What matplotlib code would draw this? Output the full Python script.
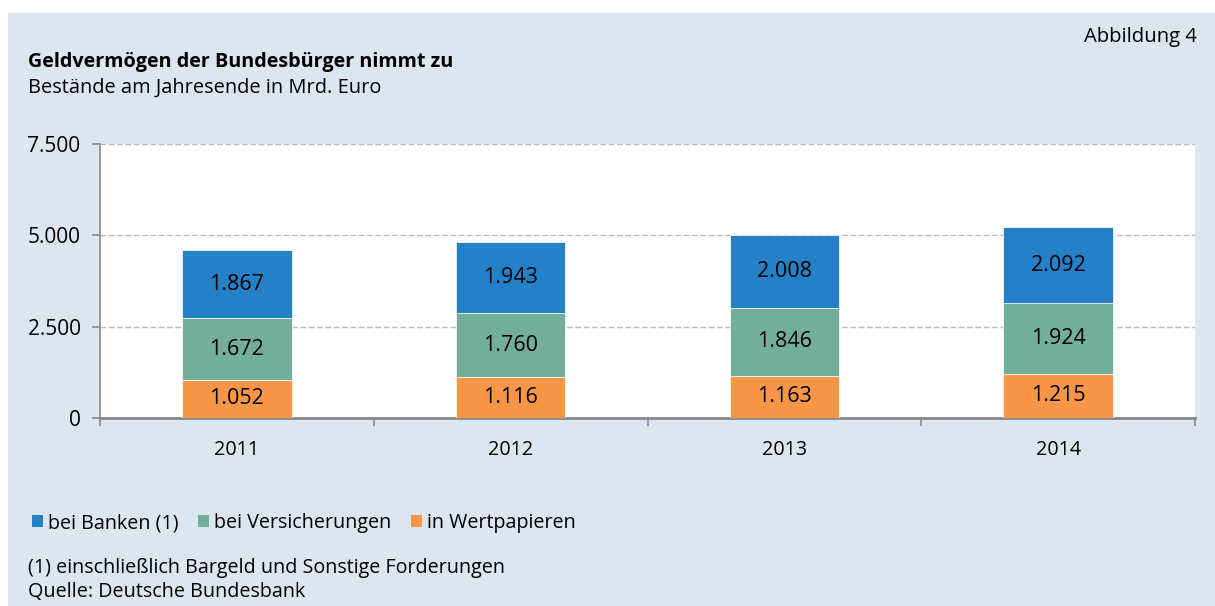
import matplotlib
matplotlib.use("Agg")
import matplotlib.pyplot as plt
from matplotlib.patches import Rectangle, Patch
import numpy as np

years = ["2011", "2012", "2013", "2014"]
wertpapiere = [1052, 1116, 1163, 1215]
versicherungen = [1672, 1760, 1846, 1924]
banken = [1867, 1943, 2008, 2092]
series_names = ["bei Banken (1)", "bei Versicherungen", "in Wertpapieren"]
yticks = [0, 2500, 5000, 7500]
ytick_labels = ["0", "2.500", "5.000", "7.500"]

c_bank = "#2481c8"
c_vers = "#72ae99"
c_wert = "#f79646"
bg = "#dce6f1"

plt.rcParams['font.family'] = ['Open Sans', 'DejaVu Sans']

fig = plt.figure(figsize=(12.15, 6.06), dpi=100)
fig.patches.append(Rectangle((8/1215, 0), 1 - 8/1215, 1 - 13/606, transform=fig.transFigure,
                             facecolor=bg, edgecolor='none', zorder=-10))

ax = fig.add_axes([100/1215, 188/606, 1095/1215, 274/606])
ax.set_facecolor("white")
x = np.arange(len(years))
w = 0.4
fmt = lambda v: f"{v:,}".replace(",", ".")

ax.bar(x, wertpapiere, w, color=c_wert, edgecolor="#f5f5f5", linewidth=0.6, zorder=3)
ax.bar(x, versicherungen, w, bottom=wertpapiere, color=c_vers, edgecolor="#f5f5f5", linewidth=0.6, zorder=3)
bot3 = [a + b for a, b in zip(wertpapiere, versicherungen)]
ax.bar(x, banken, w, bottom=bot3, color=c_bank, edgecolor="#f5f5f5", linewidth=0.6, zorder=3)

lab_fs = 15.5
for i in range(len(years)):
    ax.text(x[i], wertpapiere[i] / 2, fmt(wertpapiere[i]), ha='center', va='center', fontsize=lab_fs, zorder=4)
    ax.text(x[i], wertpapiere[i] + versicherungen[i] / 2, fmt(versicherungen[i]), ha='center', va='center', fontsize=lab_fs, zorder=4)
    ax.text(x[i], bot3[i] + banken[i] / 2, fmt(banken[i]), ha='center', va='center', fontsize=lab_fs, zorder=4)

ax.set_xlim(-0.5, len(years) - 0.5)
ax.set_ylim(0, 7500)
ax.set_yticks(yticks)
ax.set_yticklabels(ytick_labels, fontsize=15)
ax.set_xticks(x)
ax.set_xticklabels(years, fontsize=14.2)
ax.tick_params(axis='x', length=0, pad=16)
ax.set_xticks(np.arange(-0.5, len(years) + 0.5, 1), minor=True)
ax.tick_params(axis='x', which='minor', length=6, color='#888888', width=1.2)
ax.tick_params(axis='y', length=6, color='#888888', width=1.2, pad=8)
ax.yaxis.grid(True, linestyle=(0, (4, 2)), color='#bbbbbb', linewidth=1.0, zorder=0)
ax.set_axisbelow(True)
for s in ['top', 'right']:
    ax.spines[s].set_visible(False)
ax.spines['left'].set_color('#888888')
ax.spines['left'].set_linewidth(1.2)
ax.spines['bottom'].set_color('#888888')
ax.spines['bottom'].set_linewidth(2)

fig.text(28/1215, 1 - 62/606, "Geldvermögen der Bundesbürger nimmt zu", fontsize=14.2,
         fontweight='bold', va='center', ha='left')
fig.text(28/1215, 1 - 88/606, "Bestände am Jahresende in Mrd. Euro", fontsize=14.4, va='center', ha='left')
fig.text(1197/1215, 1 - 37/606, "Abbildung 4", fontsize=14.6, va='center', ha='right')

handles = [Patch(facecolor=c_bank), Patch(facecolor=c_vers), Patch(facecolor=c_wert)]
fig.legend(handles, series_names, loc='center left', bbox_to_anchor=(24/1215, 1 - 523/606),
           ncol=3, frameon=False, fontsize=14.2, handlelength=0.55, handleheight=0.55,
           handletextpad=0.25, columnspacing=1.0, borderaxespad=0)

fig.text(28/1215, 1 - 568/606, "(1) einschließlich Bargeld und Sonstige Forderungen", fontsize=14.2, va='center')
fig.text(28/1215, 1 - 592/606, "Quelle: Deutsche Bundesbank", fontsize=14.2, va='center')

fig.savefig("out.png", dpi=100)
